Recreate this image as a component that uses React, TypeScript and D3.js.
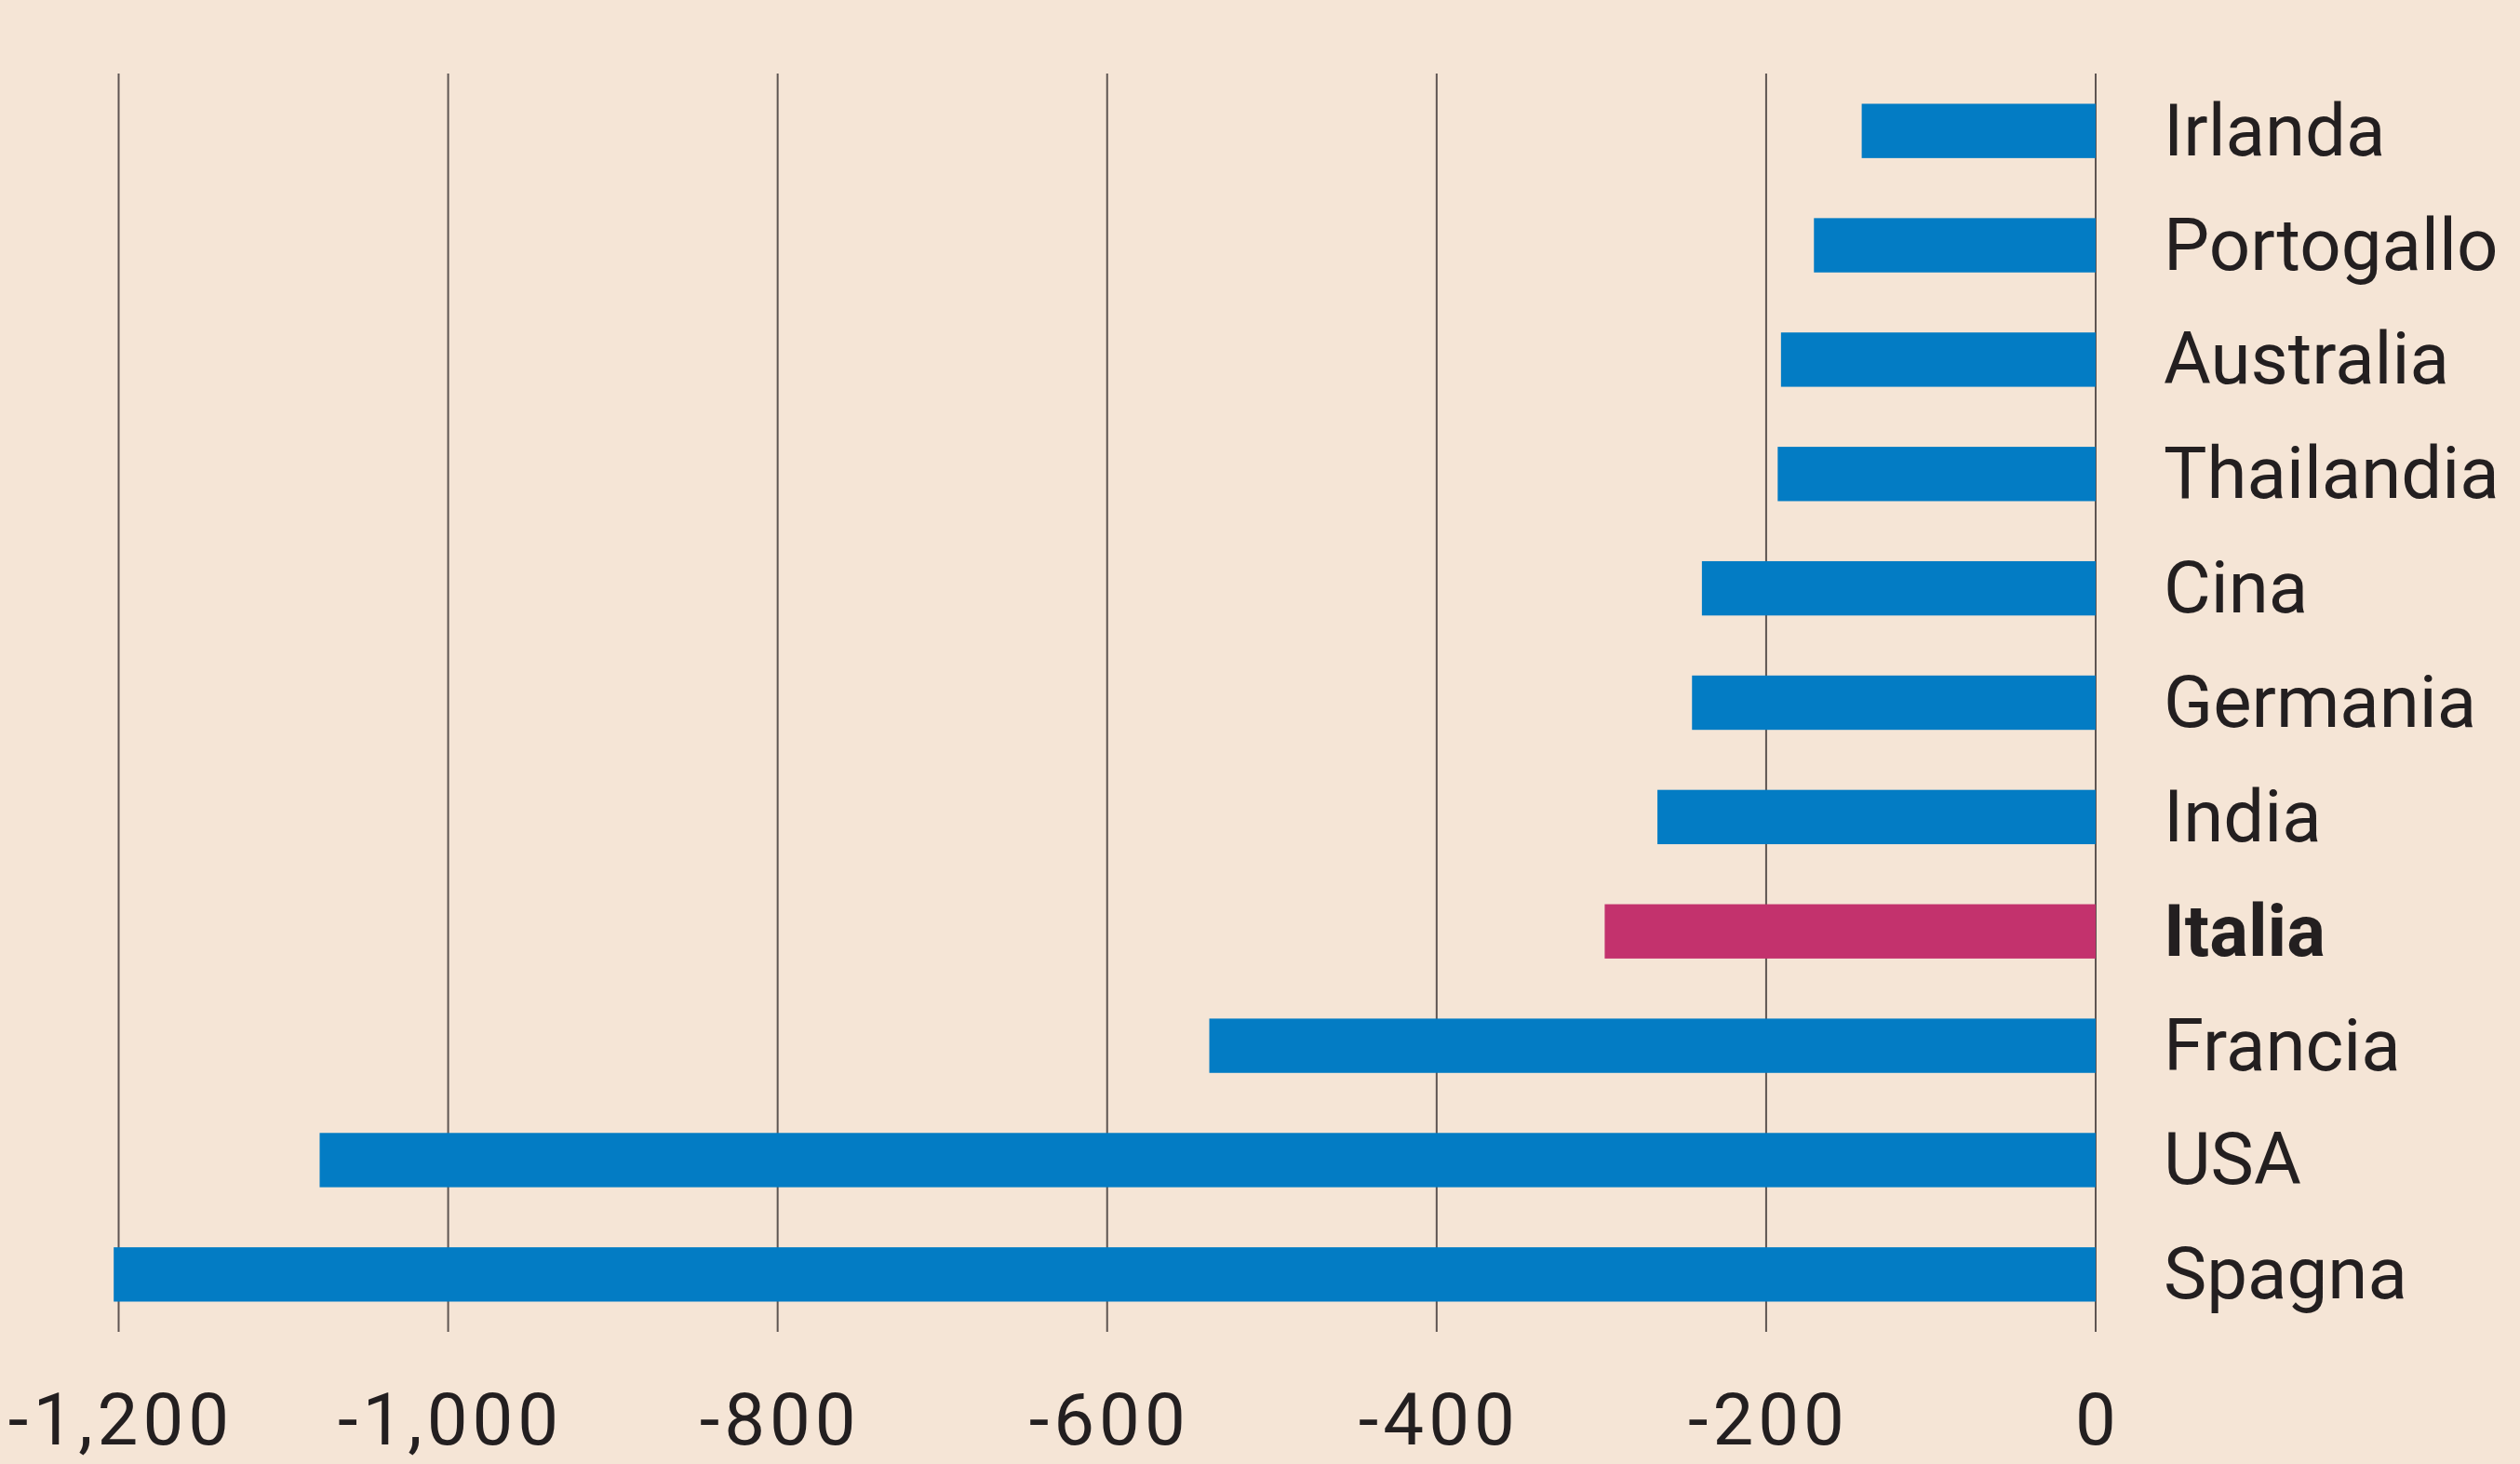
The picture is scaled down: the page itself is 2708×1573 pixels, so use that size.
import { useEffect, useRef } from 'react'
import * as d3 from 'd3'

const countries = [
  'Irlanda',
  'Portogallo',
  'Australia',
  'Thailandia',
  'Cina',
  'Germania',
  'India',
  'Italia',
  'Francia',
  'USA',
  'Spagna',
]
const values = [-142, -171, -191, -193, -239, -245, -266, -298, -538, -1078, -1203]
const highlight = 'Italia'
const tickValues = [-1200, -1000, -800, -600, -400, -200, 0]
const tickLabels = ['-1,200', '-1,000', '-800', '-600', '-400', '-200', '0']

const WIDTH = 2708
const HEIGHT = 1573

export default function App() {
  const svgRef = useRef<SVGSVGElement>(null)

  useEffect(() => {
    if (!svgRef.current) return
    document.body.style.margin = '0'

    const svg = d3.select(svgRef.current)
    svg.selectAll('*').remove()

    const colors = {
      bg: '#f5e5d6',
      bar: '#037cc4',
      hl: '#c3326d',
      text: '#231f20',
      grid: '#5e5552',
    }
    const font = 'Roboto, "Liberation Sans", sans-serif'

    svg.append('rect').attr('width', WIDTH).attr('height', HEIGHT).attr('fill', colors.bg)

    const data = countries.map((c, i) => ({ label: c, value: values[i] }))

    const x = d3.scaleLinear().domain([-1200, 0]).range([127.5, 2252])
    const y = d3
      .scaleBand()
      .domain(countries)
      .range([79, 1431])
      .paddingInner(0.525)
      .paddingOuter(0.2645)

    // Grid lines
    svg
      .append('g')
      .selectAll('line')
      .data(tickValues)
      .enter()
      .append('line')
      .attr('x1', (d) => x(d))
      .attr('x2', (d) => x(d))
      .attr('y1', 79)
      .attr('y2', 1431)
      .attr('stroke', colors.grid)
      .attr('stroke-width', 2)

    // Bars
    svg
      .append('g')
      .selectAll('rect')
      .data(data)
      .enter()
      .append('rect')
      .attr('x', (d) => x(d.value))
      .attr('y', (d) => y(d.label) || 0)
      .attr('width', (d) => x(0) - x(d.value))
      .attr('height', y.bandwidth())
      .attr('fill', (d) => (d.label === highlight ? colors.hl : colors.bar))

    // Country labels
    svg
      .append('g')
      .selectAll('text')
      .data(data)
      .enter()
      .append('text')
      .attr('x', x(0) + 73)
      .attr('y', (d) => (y(d.label) || 0) + y.bandwidth() / 2 + 26)
      .attr('fill', colors.text)
      .attr('font-family', font)
      .attr('font-size', '78px')
      .attr('font-weight', (d) => (d.label === highlight ? 700 : 400))
      .text((d) => d.label)

    // Tick labels
    svg
      .append('g')
      .selectAll('text')
      .data(tickValues)
      .enter()
      .append('text')
      .attr('x', (d) => x(d) + 2.5)
      .attr('y', 1552)
      .attr('text-anchor', 'middle')
      .attr('fill', colors.text)
      .attr('font-family', font)
      .attr('font-size', '78px')
      .attr('letter-spacing', '5px')
      .text((_, i) => tickLabels[i])
  }, [])

  return (
    <svg
      ref={svgRef}
      width={WIDTH}
      height={HEIGHT}
      style={{ display: 'block', position: 'absolute', left: 0, top: 0 }}
    />
  )
}
